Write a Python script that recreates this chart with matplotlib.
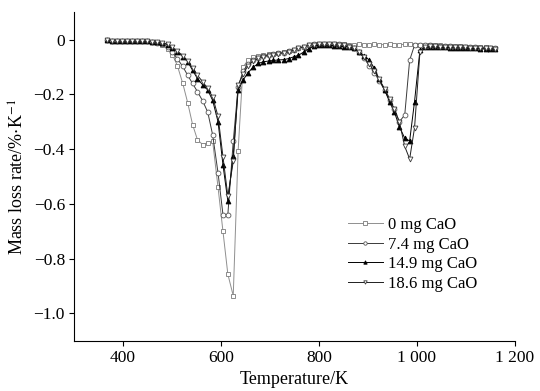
import matplotlib
matplotlib.use("Agg")
import matplotlib.pyplot as plt

plt.rcParams['font.family'] = ['Liberation Serif', 'DejaVu Serif']
plt.rcParams['mathtext.fontset'] = 'stix'

temperature = [367, 377, 388, 398, 408, 418, 429, 439, 449, 460, 470, 480, 491, 501, 511, 522,
               532, 542, 552, 563, 573, 583, 594, 604, 614, 625, 635, 645, 655, 666, 676, 686,
               697, 707, 717, 728, 738, 748, 758, 769, 779, 789, 800, 810, 820, 831, 841, 851,
               861, 872, 882, 892, 903, 913, 923, 934, 944, 954, 964, 975, 985, 995, 1006, 1016,
               1026, 1037, 1047, 1057, 1067, 1078, 1088, 1098, 1109, 1119, 1129, 1140, 1150, 1160]

cao_0 = [0.000, -0.003, -0.004, -0.005, -0.005, -0.005, -0.005, -0.005, -0.006, -0.008, -0.012,
         -0.018, -0.035, -0.055, -0.095, -0.160, -0.230, -0.310, -0.366, -0.384, -0.376, -0.372,
         -0.540, -0.700, -0.857, -0.936, -0.405, -0.100, -0.075, -0.065, -0.060, -0.057, -0.054,
         -0.051, -0.048, -0.045, -0.041, -0.036, -0.030, -0.025, -0.020, -0.017, -0.015, -0.014,
         -0.014, -0.015, -0.016, -0.017, -0.018, -0.018, -0.017, -0.018, -0.018, -0.017, -0.018,
         -0.018, -0.017, -0.018, -0.018, -0.017, -0.017, -0.018, -0.018, -0.019, -0.020, -0.021,
         -0.021, -0.022, -0.023, -0.024, -0.024, -0.025, -0.026, -0.027, -0.028, -0.028, -0.029,
         -0.030]

cao_74 = [0.000, -0.003, -0.004, -0.005, -0.005, -0.005, -0.005, -0.005, -0.006, -0.008, -0.011,
          -0.015, -0.027, -0.045, -0.070, -0.098, -0.130, -0.160, -0.190, -0.225, -0.265, -0.348,
          -0.487, -0.639, -0.639, -0.372, -0.172, -0.115, -0.090, -0.075, -0.066, -0.060, -0.057,
          -0.054, -0.050, -0.047, -0.043, -0.037, -0.031, -0.025, -0.020, -0.017, -0.015, -0.014,
          -0.014, -0.015, -0.017, -0.020, -0.024, -0.030, -0.045, -0.068, -0.095, -0.120, -0.150,
          -0.185, -0.220, -0.255, -0.300, -0.275, -0.075, -0.020, -0.020, -0.021, -0.021, -0.022,
          -0.022, -0.023, -0.024, -0.025, -0.025, -0.026, -0.027, -0.028, -0.029, -0.030, -0.031,
          -0.032]

cao_149 = [0.000, -0.003, -0.004, -0.005, -0.005, -0.005, -0.005, -0.005, -0.006, -0.007, -0.009,
           -0.012, -0.018, -0.030, -0.045, -0.062, -0.080, -0.112, -0.142, -0.166, -0.184, -0.222,
           -0.300, -0.457, -0.590, -0.424, -0.184, -0.148, -0.121, -0.100, -0.087, -0.081, -0.078,
           -0.076, -0.074, -0.073, -0.069, -0.063, -0.057, -0.045, -0.033, -0.024, -0.020, -0.020,
           -0.020, -0.022, -0.024, -0.025, -0.026, -0.032, -0.045, -0.058, -0.075, -0.105, -0.145,
           -0.184, -0.227, -0.265, -0.318, -0.360, -0.370, -0.226, -0.038, -0.028, -0.027, -0.027,
           -0.028, -0.028, -0.029, -0.030, -0.030, -0.031, -0.032, -0.032, -0.033, -0.034, -0.034,
           -0.035]

cao_186 = [0.000, -0.003, -0.004, -0.005, -0.005, -0.005, -0.005, -0.005, -0.006, -0.007, -0.009,
           -0.011, -0.017, -0.028, -0.042, -0.058, -0.078, -0.105, -0.130, -0.155, -0.178, -0.210,
           -0.280, -0.427, -0.572, -0.445, -0.166, -0.127, -0.095, -0.078, -0.068, -0.062, -0.058,
           -0.055, -0.051, -0.048, -0.044, -0.038, -0.032, -0.026, -0.021, -0.018, -0.016, -0.015,
           -0.015, -0.016, -0.018, -0.021, -0.025, -0.032, -0.045, -0.065, -0.090, -0.115, -0.145,
           -0.180, -0.215, -0.255, -0.300, -0.390, -0.436, -0.322, -0.045, -0.028, -0.024, -0.024,
           -0.025, -0.025, -0.026, -0.027, -0.027, -0.028, -0.029, -0.030, -0.031, -0.031, -0.032,
           -0.033]

series_labels = ['0 mg CaO', '7.4 mg CaO', '14.9 mg CaO', '18.6 mg CaO']
x_ticks = [400, 600, 800, 1000, 1200]
x_tick_labels = ['400', '600', '800', '1 000', '1 200']
y_ticks = [-1.0, -0.8, -0.6, -0.4, -0.2, 0.0]
y_tick_labels = ['\u22121.0', '\u22120.8', '\u22120.6', '\u22120.4', '\u22120.2', '0']

fig = plt.figure(figsize=(5.4, 3.91), dpi=100)
ax = fig.add_axes([0.137, 0.1287, 0.8167, 0.8398])

styles = [
    dict(color='#8f8f8f', marker='s', mfc='white', mec='#7a7a7a'),
    dict(color='#3a3a3a', marker='o', mfc='white', mec='#555555'),
    dict(color='#000000', marker='^', mfc='black', mec='black'),
    dict(color='#1e1e1e', marker='v', mfc='white', mec='#3a3a3a'),
]
data = [cao_0, cao_74, cao_149, cao_186]
for vals, lab, st in zip(data, series_labels, styles):
    ax.plot(temperature, vals, lw=0.7, ms=3.5, mew=0.6, label=lab, **st)

ax.set_xlim(300, 1200)
ax.set_ylim(-1.1, 0.1)
ax.set_xticks(x_ticks)
ax.set_xticklabels(x_tick_labels)
ax.set_yticks(y_ticks)
ax.set_yticklabels(y_tick_labels)
ax.spines['top'].set_visible(False)
ax.spines['right'].set_visible(False)
for s in ('left', 'bottom'):
    ax.spines[s].set_linewidth(0.8)
ax.tick_params(direction='out', length=3.5, width=0.8, labelsize=12.5, pad=3)

ax.set_xlabel('Temperature/K', fontsize=13, labelpad=4)
ax.set_ylabel(r'Mass loss rate/%$\cdot$K$^{-1}$', fontsize=13, labelpad=4)

ax.legend(loc='upper left', bbox_to_anchor=(0.621, 0.377), frameon=False, fontsize=12,
          borderpad=0, borderaxespad=0, handlelength=2.1, handletextpad=0.3,
          labelspacing=0.22, markerscale=0.7)

fig.savefig('out.png', dpi=100)
